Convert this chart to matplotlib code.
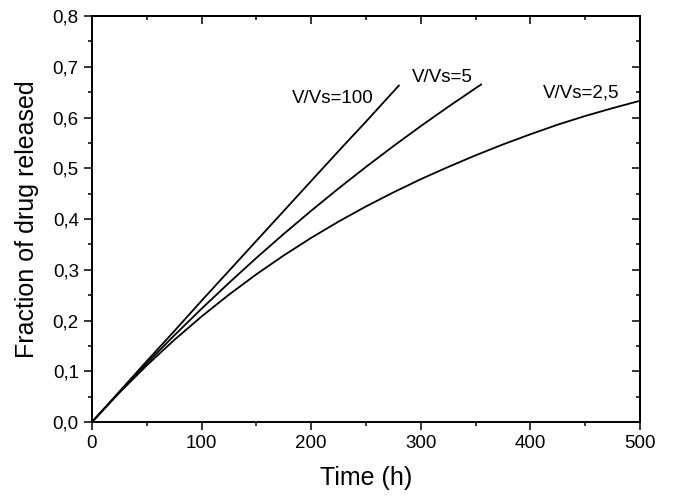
import matplotlib
matplotlib.use("Agg")
import matplotlib.pyplot as plt
from matplotlib.ticker import MultipleLocator, FuncFormatter

plt.rcParams['font.family'] = ['Liberation Sans', 'DejaVu Sans']

# Data
t_100 = [0, 25, 50, 75, 100, 125, 150, 175, 200, 225, 250, 280]
f_100 = [0, 0.060, 0.120, 0.179, 0.239, 0.298, 0.357, 0.416, 0.475, 0.534, 0.592, 0.663]

t_5 = [0, 25, 50, 75, 100, 125, 150, 175, 200, 225, 250, 275, 300, 325, 350, 355]
f_5 = [0, 0.0589, 0.1157, 0.1705, 0.2233, 0.2742, 0.3234, 0.3707, 0.4163, 0.4603,
       0.5027, 0.5436, 0.5831, 0.6211, 0.6578, 0.665]

t_25 = [0, 25, 50, 75, 100, 125, 150, 175, 200, 225, 250, 275, 300, 325, 350, 375,
        400, 425, 450, 475, 500]
f_25 = [0, 0.0578, 0.1116, 0.1616, 0.2079, 0.2510, 0.2911, 0.3283, 0.3629, 0.3950,
        0.4248, 0.4525, 0.4785, 0.5026, 0.5255, 0.5470, 0.5670, 0.5860, 0.6030,
        0.6185, 0.6330]

labels = ["V/Vs=100", "V/Vs=5", "V/Vs=2,5"]
label_pos = [(182.5, 0.637), (291.7, 0.679), (411.8, 0.649)]

fig = plt.figure(figsize=(6.73, 4.96), dpi=100)
ax = fig.add_axes([0.1367, 0.1492, 0.8143, 0.8185])

for t, f in [(t_100, f_100), (t_5, f_5), (t_25, f_25)]:
    ax.plot(t, f, color='black', lw=1.3)

for lab, (x, y) in zip(labels, label_pos):
    ax.text(x, y, lab, fontsize=13.5, ha='left', va='center')

ax.set_xlim(0, 500)
ax.set_ylim(0, 0.8)
ax.xaxis.set_major_locator(MultipleLocator(100))
ax.xaxis.set_minor_locator(MultipleLocator(50))
ax.yaxis.set_major_locator(MultipleLocator(0.1))
ax.yaxis.set_minor_locator(MultipleLocator(0.05))
ax.yaxis.set_major_formatter(FuncFormatter(lambda v, p: f"{v:.1f}".replace('.', ',')))

ax.tick_params(which='major', direction='out', length=6, width=1.1, labelsize=13.5)
ax.tick_params(which='minor', direction='out', length=3, width=1.1)
for s in ax.spines.values():
    s.set_linewidth(1.4)

secx = ax.secondary_xaxis('top')
secx.xaxis.set_major_locator(MultipleLocator(100))
secx.xaxis.set_minor_locator(MultipleLocator(50))
secx.tick_params(which='major', direction='in', length=6, width=1.1, labeltop=False)
secx.tick_params(which='minor', direction='in', length=3, width=1.1)
secx.spines['top'].set_linewidth(1.4)

secy = ax.secondary_yaxis('right')
secy.yaxis.set_major_locator(MultipleLocator(0.1))
secy.yaxis.set_minor_locator(MultipleLocator(0.05))
secy.tick_params(which='major', direction='in', length=6, width=1.1, labelright=False)
secy.tick_params(which='minor', direction='in', length=3, width=1.1)
secy.spines['right'].set_linewidth(1.4)

ax.set_xlabel("Time (h)", fontsize=18, labelpad=10)
ax.set_ylabel("Fraction of drug released", fontsize=18, labelpad=10)

fig.savefig("out.png", dpi=100)
